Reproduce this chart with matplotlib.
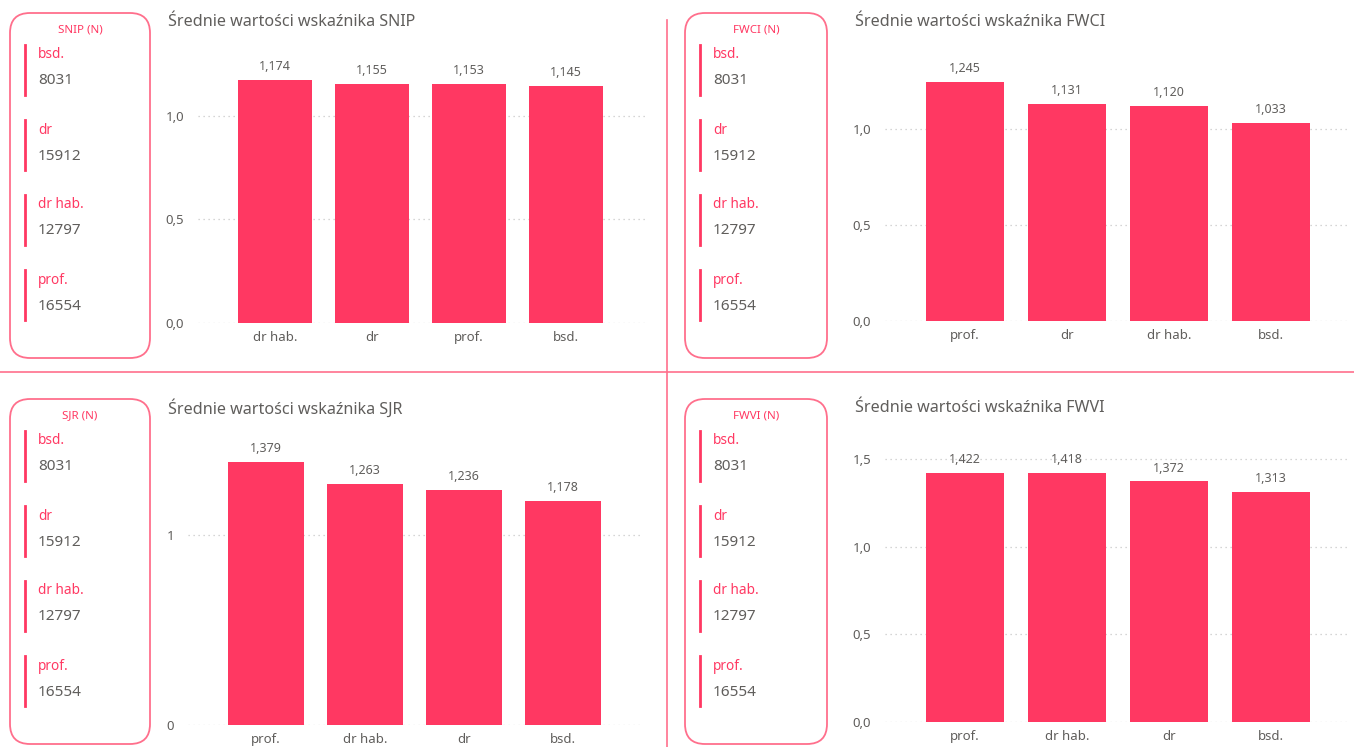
import matplotlib
matplotlib.use('Agg')
import matplotlib.pyplot as plt
from matplotlib.patches import FancyBboxPatch
from matplotlib.ticker import FixedLocator

plt.rcParams['font.family'] = ['Noto Sans', 'DejaVu Sans']

# dane
snip_cats = ['dr hab.', 'dr', 'prof.', 'bsd.']
snip_vals = [1.174, 1.155, 1.153, 1.145]
fwci_cats = ['prof.', 'dr', 'dr hab.', 'bsd.']
fwci_vals = [1.245, 1.131, 1.120, 1.033]
sjr_cats = ['prof.', 'dr hab.', 'dr', 'bsd.']
sjr_vals = [1.379, 1.263, 1.236, 1.178]
fwvi_cats = ['prof.', 'dr hab.', 'dr', 'bsd.']
fwvi_vals = [1.422, 1.418, 1.372, 1.313]
card_labels = ['bsd.', 'dr', 'dr hab.', 'prof.']
card_counts = [8031, 15912, 12797, 16554]

BAR = '#ff3862'
PINK = '#ff6f8c'
GRAY = '#605e5c'
W, H = 1354, 747

fig = plt.figure(figsize=(W / 100, H / 100), dpi=100)
bg = fig.add_axes([0, 0, 1, 1])
bg.set_xlim(0, W)
bg.set_ylim(H, 0)
bg.axis('off')

# linie podziału
bg.plot([667, 667], [20, H], color=PINK, lw=1.2)
bg.plot([0, W], [372, 372], color=PINK, lw=1.2)


def card(x0, x1, top, name):
    box = FancyBboxPatch((x0 + 20, top + 20), x1 - x0 - 40, 345 - 40,
                         boxstyle='round,pad=20', fc='white', ec=PINK, lw=1.3)
    bg.add_patch(box)
    bg.text((x0 + x1) / 2, top + 17, name + ' (N)', color=BAR, fontsize=8.3,
            ha='center', va='center')
    for i in range(len(card_labels)):
        y = top + 75 * i
        bg.plot([x0 + 15, x0 + 15], [y + 32, y + 82], color=BAR, lw=2)
        bg.text(x0 + 28, y + 42, card_labels[i], color=BAR, fontsize=9.8,
                ha='left', va='center')
        bg.text(x0 + 28, y + 68, str(card_counts[i]), color=GRAY, fontsize=11,
                ha='left', va='center')


def chart(px, tx, name, cats, vals, ticks, ticklabels, xlim, ymax):
    # px = (lewo, góra, prawo, dół) w pikselach
    l, t, r, b = px
    ax = fig.add_axes([l / W, 1 - b / H, (r - l) / W, (b - t) / H])
    ax.patch.set_alpha(0)
    x = range(len(cats))
    ax.bar(x, vals, width=0.76, color=BAR, zorder=2)
    for xi, v in zip(x, vals):
        ax.annotate(f'{v:.3f}'.replace('.', ','), (xi, v), xytext=(0, 5),
                    textcoords='offset points', ha='center', va='bottom',
                    color=GRAY, fontsize=9)
    ax.set_xlim(*xlim)
    ax.set_ylim(0, ymax)
    ax.set_xticks(list(x))
    ax.set_xticklabels(cats, color=GRAY, fontsize=9.5)
    ax.yaxis.set_major_locator(FixedLocator(ticks))
    ax.set_yticklabels(ticklabels, color=GRAY, fontsize=9.5)
    ax.tick_params(length=0, pad=6)
    ax.tick_params(axis='y', pad=10)
    ax.grid(axis='y', color='#c8c8c8', linestyle=(0, (1, 3)), lw=0.9, zorder=0)
    for s in ax.spines.values():
        s.set_visible(False)
    bg.text(tx[0], tx[1], f'Średnie wartości wskaźnika {name}', color=GRAY,
            fontsize=11.6, ha='left', va='center')


card(10, 150, 13, 'SNIP')
card(685, 827, 13, 'FWCI')
card(10, 150, 399, 'SJR')
card(685, 827, 399, 'FWVI')

chart((198, 60, 645, 323), (168, 22), 'SNIP', snip_cats, snip_vals,
      [0, 0.5, 1.0], ['0,0', '0,5', '1,0'], (-0.794, 3.814), 1.27)
chart((885, 60, 1350, 321), (855, 22), 'FWCI', fwci_cats, fwci_vals,
      [0, 0.5, 1.0], ['0,0', '0,5', '1,0'], (-0.784, 3.775), 1.36)
chart((188, 445, 640, 725), (168, 408), 'SJR', sjr_cats, sjr_vals,
      [0, 1], ['0', '1'], (-0.788, 3.778), 1.47)
chart((885, 445, 1350, 722), (855, 408), 'FWVI', fwvi_cats, fwvi_vals,
      [0, 0.5, 1.0, 1.5], ['0,0', '0,5', '1,0', '1,5'], (-0.784, 3.775), 1.58)

fig.savefig('out.png', dpi=100)
